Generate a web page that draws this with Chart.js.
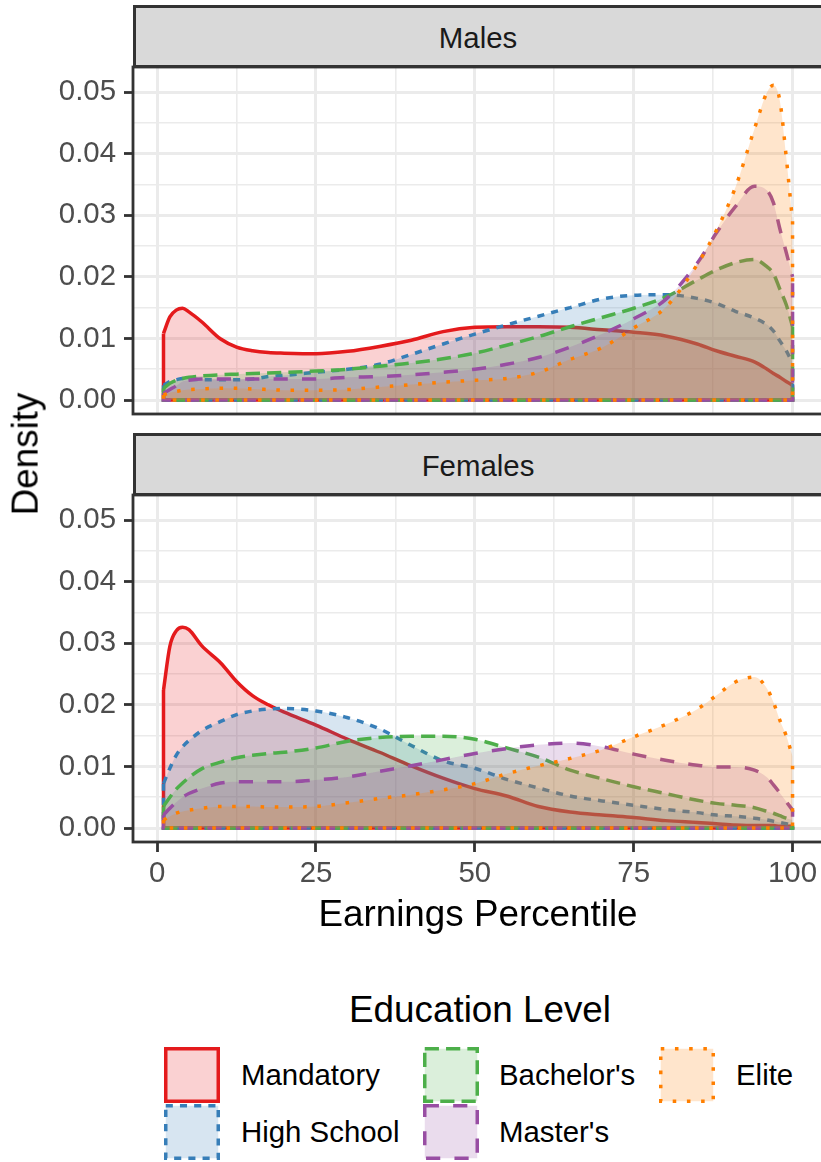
<!DOCTYPE html>
<html>
<head>
<meta charset="utf-8">
<script src="https://cdn.jsdelivr.net/npm/chart.js@4.4.1/dist/chart.umd.min.js"></script>
<style>
  html, body { margin: 0; padding: 0; overflow: hidden; background: #fff; }
  body { width: 821px; height: 1162px; position: relative; font-family: 'Liberation Sans', Arial, sans-serif; }
  canvas { position: absolute; left: 0; }
  .strip { position: absolute; left: 133px; width: 692px; height: 63px; box-sizing: border-box;
           background: #D9D9D9; border: 3px solid #333; }
  .lbl { position: absolute; white-space: nowrap; line-height: 1; }
  .key { position: absolute; }
</style>
</head>
<body>
<canvas id="males" width="824" height="357" style="top:62px"></canvas>
<canvas id="females" width="824" height="412" style="top:490px"></canvas>
<div class="strip" style="top:5px"></div>
<div class="strip" style="top:433px"></div>
<div class="lbl" style="left:478px; top:22.6px; font-size:29.4px; color:#1A1A1A; transform:translateX(-50%)">Males</div>
<div class="lbl" style="left:478px; top:450.6px; font-size:29.4px; color:#1A1A1A; transform:translateX(-50%)">Females</div>
<div class="lbl" style="left:26px; top:454px; font-size:36.8px; transform:translate(-50%,-50%) rotate(-90deg)">Density</div>
<div class="lbl" style="left:478px; top:896px; font-size:36.8px; transform:translateX(-50%)">Earnings Percentile</div>
<div class="lbl" style="left:480px; top:992px; font-size:36.8px; transform:translateX(-50%)">Education Level</div>
<div id="legend"></div>

<script>
const levels = ['Mandatory', 'High School', "Bachelor's", "Master's", 'Elite'];
const panels = ['Males', 'Females'];

const percentiles = [1, 2, 3, 4, 5, 7, 10, 12.5, 15, 17.5, 20, 25, 30, 35, 40, 45, 50,
  55, 60, 65, 70, 75, 80, 85, 88, 91, 94, 96, 97, 98, 99, 100];

const malesMandatory = [0.0108, 0.0135, 0.0146, 0.0149, 0.0143, 0.0127, 0.0099, 0.0086, 0.0080, 0.0077, 0.0076,
  0.0075, 0.0079, 0.0087, 0.0097, 0.0111, 0.0118, 0.0119, 0.0119, 0.0118, 0.0114, 0.0110, 0.0104,
  0.0091, 0.0080, 0.0071, 0.0062, 0.0050, 0.0043, 0.0037, 0.0030, 0.0024];
const malesHighSchool = [0.0024, 0.0030, 0.0033, 0.0035, 0.0034, 0.0033, 0.0033, 0.0033, 0.0034, 0.0038, 0.0040,
  0.0045, 0.0050, 0.0058, 0.0074, 0.0091, 0.0107, 0.0122, 0.0136, 0.0150, 0.0164, 0.0170, 0.0171,
  0.0165, 0.0157, 0.0144, 0.0133, 0.0122, 0.0112, 0.0096, 0.0080, 0.0060];
const malesBachelors = [0.0019, 0.0027, 0.0032, 0.0035, 0.0037, 0.0039, 0.0041, 0.0042, 0.0043, 0.0044, 0.0045,
  0.0047, 0.0050, 0.0055, 0.0060, 0.0067, 0.0076, 0.0089, 0.0103, 0.0119, 0.0134, 0.0149, 0.0167,
  0.0195, 0.0211, 0.0223, 0.0228, 0.0216, 0.0205, 0.0180, 0.0155, 0.0119];
const malesMasters = [0.0011, 0.0017, 0.0023, 0.0030, 0.0032, 0.0034, 0.0034, 0.0034, 0.0034, 0.0034, 0.0034,
  0.0034, 0.0037, 0.0038, 0.0041, 0.0045, 0.0050, 0.0058, 0.0069, 0.0086, 0.0107, 0.0132, 0.0163,
  0.0222, 0.0271, 0.0314, 0.0347, 0.0340, 0.0320, 0.0278, 0.0240, 0.0200];
const malesElite = [0.0008, 0.0012, 0.0014, 0.0016, 0.0017, 0.0018, 0.0019, 0.0019, 0.0018, 0.0017, 0.0016,
  0.0016, 0.0017, 0.0021, 0.0025, 0.0029, 0.0032, 0.0035, 0.0045, 0.0066, 0.0085, 0.0117, 0.0150,
  0.0220, 0.0275, 0.0345, 0.0440, 0.0500, 0.0511, 0.0486, 0.0395, 0.0290];

const femalesMandatory = [0.0224, 0.0295, 0.0320, 0.0326, 0.0322, 0.0296, 0.0268, 0.0238, 0.0215, 0.0200, 0.0188,
  0.0167, 0.0144, 0.0123, 0.0101, 0.0081, 0.0064, 0.0052, 0.0035, 0.0026, 0.0021, 0.0017, 0.0012,
  0.0009, 0.0007, 0.0005, 0.0004, 0.0004, 0.0004, 0.0003, 0.0003, 0.0003];
const femalesHighSchool = [0.0072, 0.0097, 0.0118, 0.0132, 0.0142, 0.0158, 0.0173, 0.0184, 0.0190, 0.0193, 0.0194,
  0.0190, 0.0179, 0.0161, 0.0134, 0.0109, 0.0097, 0.0079, 0.0065, 0.0052, 0.0044, 0.0037, 0.0030,
  0.0025, 0.0021, 0.0019, 0.0016, 0.0013, 0.0011, 0.0009, 0.0007, 0.0005];
const femalesBachelors = [0.0035, 0.0050, 0.0063, 0.0073, 0.0082, 0.0096, 0.0107, 0.0114, 0.0118, 0.0121, 0.0123,
  0.0130, 0.0141, 0.0147, 0.0149, 0.0149, 0.0144, 0.0130, 0.0115, 0.0094, 0.0080, 0.0067, 0.0056,
  0.0045, 0.0040, 0.0037, 0.0033, 0.0027, 0.0024, 0.0020, 0.0016, 0.0013];
const femalesMasters = [0.0021, 0.0032, 0.0042, 0.0050, 0.0056, 0.0064, 0.0073, 0.0075, 0.0075, 0.0075, 0.0075,
  0.0078, 0.0083, 0.0092, 0.0101, 0.0111, 0.0121, 0.0129, 0.0135, 0.0138, 0.0132, 0.0120, 0.0110,
  0.0102, 0.0099, 0.0099, 0.0094, 0.0082, 0.0070, 0.0057, 0.0043, 0.0029];
const femalesElite = [0.0013, 0.0019, 0.0024, 0.0027, 0.0029, 0.0032, 0.0035, 0.0035, 0.0035, 0.0034, 0.0034,
  0.0035, 0.0041, 0.0048, 0.0054, 0.0062, 0.0072, 0.0088, 0.0101, 0.0113, 0.0127, 0.0148, 0.0168,
  0.0193, 0.0215, 0.0237, 0.0245, 0.0226, 0.0204, 0.0175, 0.0150, 0.0116];

// axis breaks: major ones get labels, minor ones only a thin grid line
const xBreaks = [0, 25, 50, 75, 100];
const xMinor = [12.5, 37.5, 62.5, 87.5];
const yBreaks = [0, 0.01, 0.02, 0.03, 0.04, 0.05];
const yMinor = [0.005, 0.015, 0.025, 0.035, 0.045];
const yLabels = ['0.00', '0.01', '0.02', '0.03', '0.04', '0.05'];

const colors = ['#E41A1C', '#377EB8', '#4DAF4A', '#984EA3', '#FF7F00'];
const fills = ['rgba(228,26,28,0.2)', 'rgba(55,126,184,0.2)', 'rgba(77,175,74,0.2)',
  'rgba(152,78,163,0.2)', 'rgba(255,127,0,0.2)'];
const dashes = [[], [7.1, 7.1], [14.2, 7.1], [14.2, 14.2], [3.55, 10.65]];
const LW = 3.5;

Chart.defaults.font.family = "'Liberation Sans', Arial, sans-serif";

const borderPlugin = {
  id: 'panelBorder',
  afterDraw(chart) {
    const a = chart.chartArea, ctx = chart.ctx;
    ctx.save();
    ctx.strokeStyle = '#333333';
    ctx.lineWidth = 2.8;
    ctx.strokeRect(a.left, a.top, a.right - a.left + 4, a.bottom - a.top);
    ctx.restore();
  }
};

function isMajor(list, v) {
  return list.some(b => Math.abs(b - v) < 1e-9);
}

function makePanel(id, series, showX) {
  const datasets = [];
  series.forEach((vals, i) => {
    const n = percentiles.length;
    datasets.push({
      label: levels[i],
      data: percentiles.map((x, j) => ({ x: x, y: vals[j] })),
      borderColor: colors[i],
      backgroundColor: fills[i],
      borderDash: dashes[i],
      borderWidth: LW,
      fill: 'origin',
      cubicInterpolationMode: 'monotone',
      pointRadius: 0,
      order: (5 - i) * 2
    });
    // remaining edges of the density outline: left side, baseline, right side
    datasets.push({
      label: levels[i] + ' edge',
      data: [{ x: percentiles[0], y: vals[0] }, { x: percentiles[0], y: 0 },
             { x: percentiles[n - 1], y: 0 }, { x: percentiles[n - 1], y: vals[n - 1] }],
      borderColor: colors[i],
      borderDash: dashes[i],
      borderWidth: LW,
      fill: false,
      tension: 0,
      pointRadius: 0,
      order: (5 - i) * 2 - 1
    });
  });

  new Chart(document.getElementById(id), {
    type: 'line',
    data: { datasets },
    plugins: [borderPlugin],
    options: {
      responsive: false,
      animation: false,
      layout: { padding: { top: 5, bottom: showX ? 0 : 5, left: 0, right: 0 } },
      plugins: { legend: { display: false }, tooltip: { enabled: false } },
      scales: {
        x: {
          type: 'linear',
          min: -3.8,
          max: 104.95,
          afterBuildTicks: a => { a.ticks = xBreaks.concat(xMinor).sort((p, q) => p - q).map(v => ({ value: v })); },
          afterFit: a => { a.height = showX ? 60 : 0; a.paddingLeft = 0; a.paddingRight = 0; },
          border: { display: false },
          grid: {
            color: '#EBEBEB',
            lineWidth: c => isMajor(xBreaks, c.tick.value) ? 3 : 1.6,
            drawTicks: showX,
            tickLength: 10,
            tickWidth: 2.8,
            tickColor: c => isMajor(xBreaks, c.tick.value) ? '#333333' : 'rgba(0,0,0,0)'
          },
          ticks: {
            display: showX,
            autoSkip: false,
            maxRotation: 0,
            padding: 4,
            color: '#4D4D4D',
            font: { size: 29.4 },
            callback: v => isMajor(xBreaks, v) ? String(v) : ''
          }
        },
        y: {
          min: -0.00227,
          max: 0.05406,
          afterBuildTicks: a => { a.ticks = yBreaks.concat(yMinor).sort((p, q) => p - q).map(v => ({ value: v })); },
          afterFit: a => { a.width = 133; a.paddingTop = 0; a.paddingBottom = 0; },
          border: { display: false },
          grid: {
            color: '#EBEBEB',
            lineWidth: c => isMajor(yBreaks, c.tick.value) ? 3 : 1.6,
            tickLength: 9,
            tickWidth: 2.8,
            tickColor: c => isMajor(yBreaks, c.tick.value) ? '#333333' : 'rgba(0,0,0,0)'
          },
          ticks: {
            autoSkip: false,
            padding: 8,
            color: '#4D4D4D',
            font: { size: 29.4 },
            callback: v => {
              const k = yBreaks.findIndex(b => Math.abs(b - v) < 1e-9);
              return k >= 0 ? yLabels[k] : '';
            }
          }
        }
      }
    }
  });
}

makePanel('males', [malesMandatory, malesHighSchool, malesBachelors, malesMasters, malesElite], false);
makePanel('females', [femalesMandatory, femalesHighSchool, femalesBachelors, femalesMasters, femalesElite], true);

// legend, two rows filled column by column like ggplot
const keyCols = [164, 423, 659];
const textCols = [241, 499, 736];
const keyRows = [1047, 1104];
const textRows = [1060, 1117];
const legend = document.getElementById('legend');
levels.forEach((name, i) => {
  const col = Math.floor(i / 2), row = i % 2;
  const s = 56;
  const dash = dashes[i].length ? dashes[i].join(' ') : 'none';
  legend.insertAdjacentHTML('beforeend',
    `<svg class="key" width="${s}" height="${s}" style="left:${keyCols[col]}px; top:${keyRows[row]}px">` +
    `<rect x="${LW / 2}" y="${LW / 2}" width="${s - LW}" height="${s - LW}" fill="${fills[i]}" ` +
    `stroke="${colors[i]}" stroke-width="${LW}" stroke-dasharray="${dash}"/></svg>` +
    `<div class="lbl" style="left:${textCols[col]}px; top:${textRows[row]}px; font-size:29.4px">${name}</div>`);
});
</script>
</body>
</html>
